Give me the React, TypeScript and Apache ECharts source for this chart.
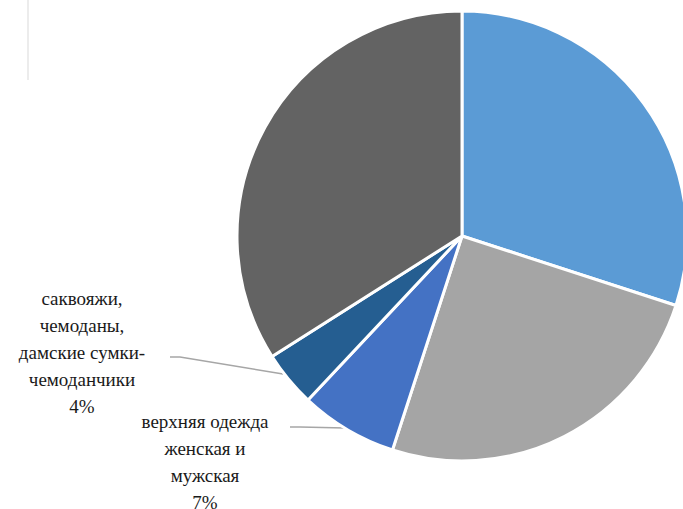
import React, { useEffect, useRef } from "react";
import * as echarts from "echarts";

const categories = [
  "одежда женская\nи мужская",
  "обувь",
  "верхняя одежда\nженская и\nмужская",
  "саквояжи,\nчемоданы,\nдамские сумки-\nчемоданчики",
  "прочие",
];
const values = [30, 25, 7, 4, 34];
const colors = ["#5B9BD5", "#A5A5A5", "#4472C4", "#255E91", "#636363"];

// label block centres (layout only)
const labelPos: [number, number][] = [
  [576, 193],
  [540, 398],
  [205, 462],
  [82, 352],
  [312, 153],
];
const linePts: (number[][] | null)[] = [
  null,
  null,
  [[345, 428], [300, 427], [290, 427]],
  [[283, 374], [180, 357], [170, 357]],
  null,
];

const FONT = "Liberation Serif";

export default function App() {
  const ref = useRef<HTMLDivElement>(null);
  useEffect(() => {
    document.body.style.margin = "0";
    const chart = echarts.init(ref.current!, null, { renderer: "svg" });
    chart.setOption({
      animation: false,
      graphic: [
        {
          type: "line",
          shape: { x1: 28, y1: 0, x2: 28, y2: 80 },
          style: { stroke: "#ececec", lineWidth: 2 },
        },
      ],
      series: [
        {
          type: "pie",
          center: [462, 236],
          radius: 225,
          startAngle: 90,
          clockwise: true,
          avoidLabelOverlap: false,
          itemStyle: { borderColor: "#ffffff", borderWidth: 3 },
          label: { show: false },
          labelLine: { show: false },
          data: categories.map((name, i) => ({
            name,
            value: values[i],
            itemStyle: { color: colors[i] },
          })),
        },
      ],
    });
    // labels placed as text elements in serif font, leader lines as polylines
    const gfx: any[] = [
      {
        type: "line",
        shape: { x1: 28, y1: 0, x2: 28, y2: 80 },
        style: { stroke: "#ececec", lineWidth: 2 },
      },
    ];
    categories.forEach((name, i) => {
      gfx.push({
        type: "text",
        x: labelPos[i][0],
        y: labelPos[i][1],
        style: {
          text: `${name}\n${values[i]}%`,
          fontFamily: FONT,
          fontSize: 19,
          lineHeight: 27,
          fill: "#1a1a1a",
          align: "center",
          verticalAlign: "middle",
        },
      });
      const pts = linePts[i];
      if (pts) {
        gfx.push({
          type: "polyline",
          shape: { points: pts },
          style: { stroke: "#a6a6a6", lineWidth: 1.5, fill: null },
        });
      }
    });
    chart.setOption({ graphic: gfx }, { replaceMerge: ["graphic"] });
    return () => chart.dispose();
  }, []);
  return (
    <div
      ref={ref}
      style={{ width: 683, height: 509, background: "#ffffff" }}
    />
  );
}
